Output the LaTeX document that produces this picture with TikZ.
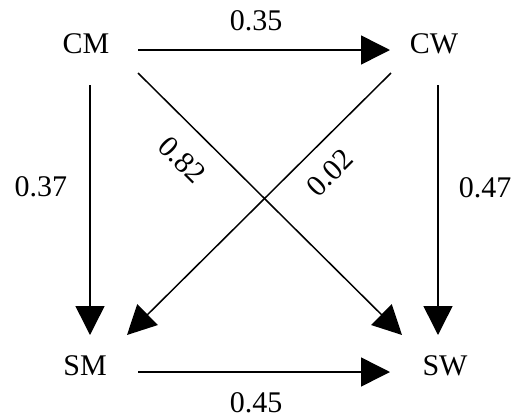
\documentclass[tikz,border=0pt]{standalone}
\usepackage{fontspec}
\setmainfont{Liberation Serif}
\usetikzlibrary{arrows.meta}
\begin{document}
\begin{tikzpicture}[x=1pt,y=-1pt,
  lbl/.style={inner sep=0pt,font=\fontsize{30}{34}\selectfont},
  arr/.style={line width=1.5pt,-{Triangle[length=29pt,width=29pt]}}]
\useasboundingbox (0,0) rectangle (515,416);
\node[lbl] (CM) at (86,44) {CM};
\node[lbl] (CW) at (434,44) {CW};
\node[lbl] (SM) at (85,366) {SM};
\node[lbl] (SW) at (445,366) {SW};
\draw[arr] ([shift={(52pt,-6pt)}]CM.center) -- ([shift={(-44pt,-6pt)}]CW.center);
\draw[arr] ([shift={(4pt,-41pt)}]CM.center) -- ([shift={(5pt,31pt)}]SM.center);
\draw[arr] ([shift={(52pt,-29pt)}]CM.center) -- ([shift={(-43pt,31pt)}]SW.center);
\draw[arr] ([shift={(-43pt,-29pt)}]CW.center) -- ([shift={(42pt,31pt)}]SM.center);
\draw[arr] ([shift={(4pt,-41pt)}]CW.center) -- ([shift={(-7pt,31pt)}]SW.center);
\draw[arr] ([shift={(53pt,-6pt)}]SM.center) -- ([shift={(-55pt,-6pt)}]SW.center);
\node[lbl] (l35) at (256,21) {0.35};
\node[lbl] (l37) at (41,187) {0.37};
\node[lbl] (l47) at (485,188) {0.47};
\node[lbl] (l45) at (256,403) {0.45};
\node[lbl,rotate=-45] (l82) at (182,160) {0.82};
\node[lbl,rotate=45] (l02) at (330,173) {0.02};
\end{tikzpicture}
\end{document}
